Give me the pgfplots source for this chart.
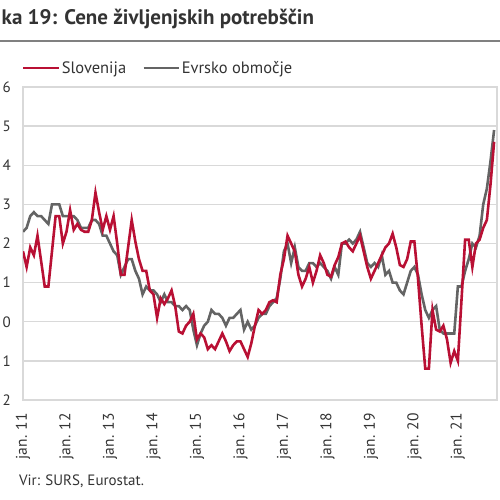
\documentclass[border=0pt]{standalone}
\usepackage{pgfplots}
\usepackage{pgfplotstable}
\pgfplotsset{compat=1.18}
\usepackage{fontspec}
\setmainfont{PT Sans}
\definecolor{slored}{RGB}{185,16,52}
\definecolor{eagray}{RGB}{100,100,100}
\definecolor{gridgray}{RGB}{217,217,217}
\definecolor{rulegray}{RGB}{128,128,128}
\definecolor{txt}{RGB}{51,51,51}
\pgfplotstableread{
m slo ea
0 1.8 2.3
1 1.4 2.4
2 1.9 2.7
3 1.7 2.8
4 2.2 2.7
5 1.55 2.7
6 0.9 2.6
7 0.9 2.5
8 1.8 3.0
9 2.7 3.0
10 2.7 3.0
11 2.0 2.7
12 2.3 2.7
13 2.85 2.7
14 2.35 2.7
15 2.5 2.6
16 2.35 2.4
17 2.3 2.4
18 2.3 2.4
19 2.6 2.6
20 3.3 2.6
21 2.8 2.5
22 2.35 2.2
23 2.7 2.2
24 2.35 2.0
25 2.7 1.8
26 2.0 1.7
27 1.2 1.2
28 1.2 1.4
29 1.9 1.6
30 2.6 1.6
31 2.05 1.3
32 1.6 1.1
33 1.3 0.7
34 1.3 0.9
35 0.8 0.8
36 0.7 0.8
37 0.1 0.7
38 0.6 0.5
39 0.45 0.7
40 0.6 0.5
41 0.8 0.5
42 0.4 0.4
43 -0.25 0.4
44 -0.3 0.3
45 -0.1 0.4
46 0.0 0.3
47 0.2 -0.2
48 -0.45 -0.6
49 -0.3 -0.3
50 -0.4 -0.1
51 -0.7 0.0
52 -0.6 0.3
53 -0.7 0.2
54 -0.5 0.2
55 -0.3 0.1
56 -0.5 -0.1
57 -0.75 0.1
58 -0.6 0.1
59 -0.5 0.2
60 -0.5 0.3
61 -0.7 -0.2
62 -0.9 0.0
63 -0.55 -0.2
64 -0.1 -0.1
65 0.3 0.1
66 0.2 0.2
67 0.3 0.2
68 0.5 0.4
69 0.55 0.5
70 0.5 0.6
71 1.2 1.1
72 1.6 1.8
73 2.2 2.0
74 2.0 1.5
75 1.8 1.9
76 1.2 1.4
77 0.9 1.3
78 1.1 1.3
79 1.4 1.5
80 1.0 1.5
81 1.3 1.4
82 1.7 1.5
83 1.5 1.4
84 1.2 1.3
85 1.15 1.1
86 1.45 1.4
87 1.65 1.2
88 2.0 2.0
89 2.05 2.0
90 1.9 2.1
91 1.8 2.0
92 2.0 2.1
93 2.2 2.3
94 1.8 1.9
95 1.4 1.5
96 1.1 1.4
97 1.3 1.5
98 1.5 1.4
99 1.7 1.7
100 1.9 1.2
101 2.0 1.3
102 2.25 1.0
103 1.9 1.0
104 1.45 0.8
105 1.4 0.7
106 1.6 1.0
107 2.05 1.3
108 2.05 1.4
109 1.1 1.2
110 -0.1 0.7
111 -1.2 0.3
112 -1.2 0.1
113 0.3 0.3
114 -0.2 0.4
115 -0.25 -0.2
116 -0.1 -0.3
117 -0.45 -0.3
118 -1.05 -0.3
119 -0.75 -0.3
120 -1.0 0.9
121 0.55 0.9
122 2.1 1.3
123 2.1 1.6
124 1.4 2.0
125 2.0 1.9
126 2.1 2.2
127 2.4 3.0
128 2.6 3.4
129 3.5 4.1
130 4.6 4.9
}\data
\begin{document}
\begin{tikzpicture}
\useasboundingbox (0pt,0pt) rectangle (500pt,500pt);
\clip (0pt,0pt) rectangle (500pt,500pt);
\node[anchor=base west, inner sep=0pt, text=txt, font=\fontsize{21}{23}\selectfont\bfseries] at (1.5pt,475pt) {ka 19: Cene življenjskih potrebščin};
\draw[line width=1.6pt, rulegray] (0pt,459pt) -- (500pt,459pt);
\begin{axis}[
  at={(23pt,100pt)}, anchor=south west,
  width=474pt, height=313pt, scale only axis,
  xmin=0, xmax=130.8, ymin=-2, ymax=6,
  xtick={0,12,24,36,48,60,72,84,96,108,120},
  xticklabels={jan. 11,jan. 12,jan. 13,jan. 14,jan. 15,jan. 16,jan. 17,jan. 18,jan. 19,jan. 20,jan. 21},
  ytick={-2,-1,0,1,2,3,4,5,6},
  yticklabels={2,1,0,1,2,3,4,5,6},
  xticklabel style={rotate=90, anchor=east, inner sep=0pt, font=\fontsize{15.5}{16}\selectfont, text=txt},
  xticklabel shift=13pt,
  yticklabel style={anchor=east, inner sep=0pt, xshift=-12pt, font=\fontsize{15}{16}\selectfont, text=txt},
  major tick length=0pt,
  ymajorgrids,
  major grid style={draw=gridgray, line width=1.3pt},
  axis line style={draw=gridgray, line width=1.3pt},
  legend columns=2,
  legend style={at={(0,1)}, anchor=west, yshift=19pt, xshift=-1pt, draw=none, fill=none, inner sep=0pt,
    font=\fontsize{16.5}{17}\selectfont, text=txt,
    /tikz/every even column/.append style={column sep=14pt}},
  legend cell align=left,
  legend image code/.code={\draw[#1] (0pt,0pt) -- (35pt,0pt);},
]
\addplot[eagray, line width=2.6pt, forget plot] table[x=m, y=ea] {\data};
\addplot[slored, line width=2.6pt] table[x=m, y=slo] {\data};
\addlegendentry{Slovenija}
\addlegendimage{eagray, line width=2.6pt}
\addlegendentry{Evrsko območje}
\end{axis}
\node[anchor=base west, inner sep=0pt, text=txt, font=\fontsize{15}{16}\selectfont] at (19pt,14pt) {Vir: SURS, Eurostat.};
\end{tikzpicture}
\end{document}
